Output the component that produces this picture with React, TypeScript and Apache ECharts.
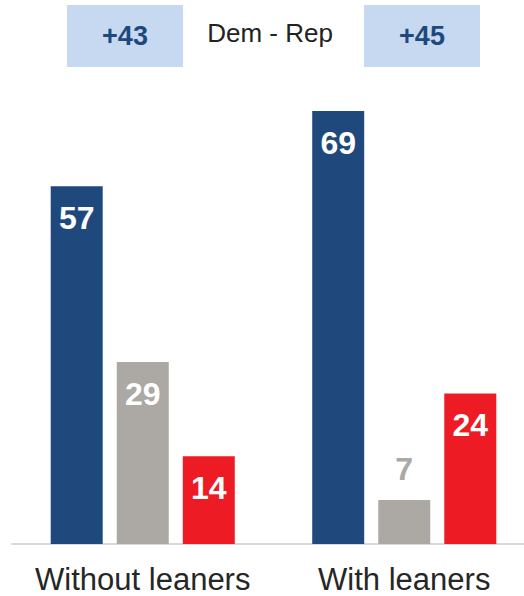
import React, { useEffect, useRef } from "react";
import * as echarts from "echarts";

const categories = ["Without leaners", "With leaners"];
const demValues = [57, 69];
const otherValues = [29, 7];
const repValues = [14, 24];
const marginTitle = "Dem - Rep";

const FONT = "'Liberation Sans', Arial, sans-serif";
const BLUE = "#1f497d";
const GRAY = "#aca8a4";
const RED = "#ed1c24";

export default function App() {
  const ref = useRef<HTMLDivElement>(null);
  useEffect(() => {
    if (!ref.current) return;
    const chart = echarts.init(ref.current, undefined, { renderer: "svg" });
    const margins = demValues.map((d, i) => d - repValues[i]);
    const insideLabel = {
      show: true,
      position: "insideTop",
      distance: 16,
      color: "#ffffff",
      fontFamily: FONT,
      fontWeight: "bold",
      fontSize: 32,
    };
    chart.setOption({
      animation: false,
      grid: {
        left: 12,
        right: -11,
        top: 42,
        bottom: 52,
        containLabel: false,
        outerBoundsMode: "none",
      },
      xAxis: {
        type: "category",
        data: categories,
        axisLine: { show: true, lineStyle: { color: "#d9d9d9", width: 2 } },
        axisTick: { show: false },
        axisLabel: {
          color: "#262626",
          fontFamily: FONT,
          fontSize: 31,
          lineHeight: 26,
          margin: 22,
          interval: 0,
        },
      },
      yAxis: { type: "value", min: 0, max: 80, show: false, splitLine: { show: false } },
      series: [
        {
          type: "bar",
          data: demValues,
          barWidth: 52,
          barGap: "27%",
          itemStyle: { color: BLUE },
          label: insideLabel,
        },
        {
          type: "bar",
          data: otherValues.map((v) =>
            v < 15
              ? {
                  value: v,
                  label: { position: "top", distance: 15, color: GRAY },
                }
              : v
          ),
          barWidth: 52,
          barGap: "27%",
          itemStyle: { color: GRAY },
          label: insideLabel,
        },
        {
          type: "bar",
          data: repValues,
          barWidth: 52,
          barGap: "27%",
          itemStyle: { color: RED },
          label: insideLabel,
        },
      ],
      graphic: [
        { type: "rect", shape: { x: 67, y: 5, width: 116, height: 62 }, style: { fill: "#c6d9f0" } },
        { type: "rect", shape: { x: 364, y: 5, width: 116, height: 62 }, style: { fill: "#c6d9f0" } },
        {
          type: "text",
          x: 125,
          y: 36,
          style: {
            text: "+" + margins[0],
            fill: BLUE,
            font: `bold 27px ${FONT}`,
            textAlign: "center",
            textVerticalAlign: "middle",
          },
        },
        {
          type: "text",
          x: 422,
          y: 36,
          style: {
            text: "+" + margins[1],
            fill: BLUE,
            font: `bold 27px ${FONT}`,
            textAlign: "center",
            textVerticalAlign: "middle",
          },
        },
        {
          type: "text",
          x: 270,
          y: 33,
          style: {
            text: marginTitle,
            fill: "#222222",
            font: `26px ${FONT}`,
            textAlign: "center",
            textVerticalAlign: "middle",
          },
        },
      ],
    });
    return () => chart.dispose();
  }, []);
  return (
    <div
      ref={ref}
      style={{ position: "fixed", left: 0, top: 0, width: 524, height: 596, background: "#fff" }}
    />
  );
}
